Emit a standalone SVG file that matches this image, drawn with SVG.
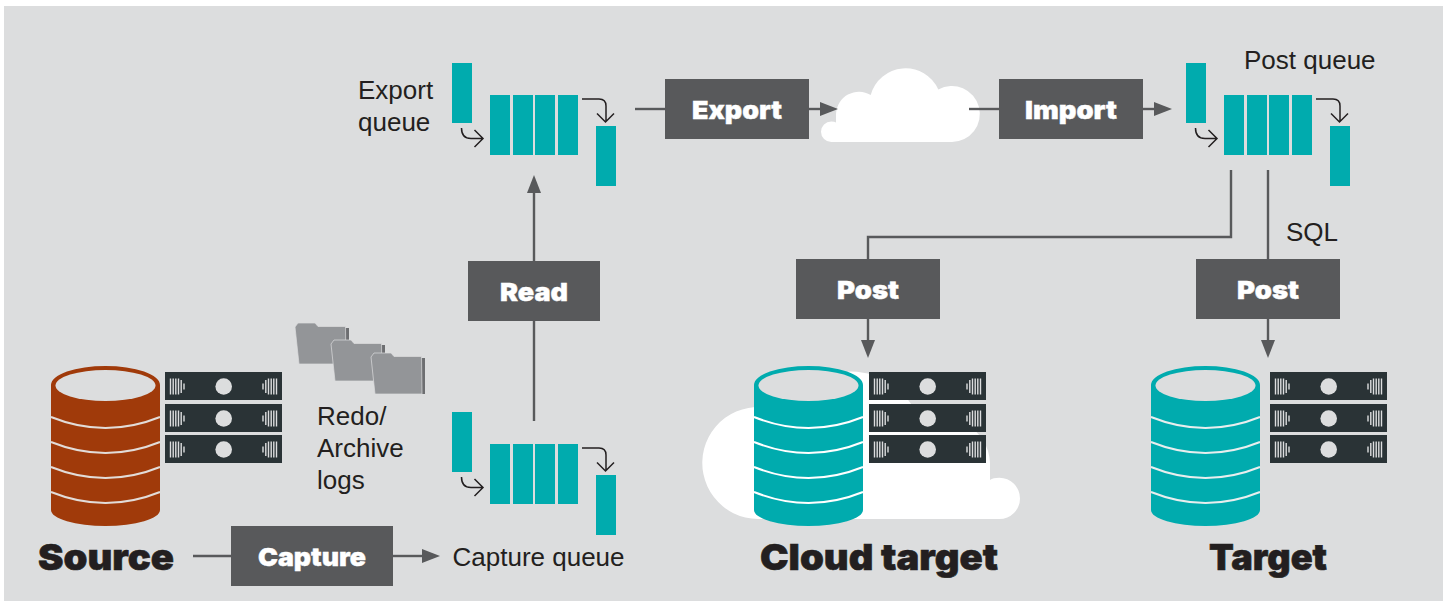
<svg xmlns="http://www.w3.org/2000/svg" xmlns:xlink="http://www.w3.org/1999/xlink" width="1447" height="605" viewBox="0 0 1447 605">
<style>
.t{font-family:"Liberation Sans",Arial,sans-serif;font-size:26px;fill:#231f20}
.h{font-family:Inter,"Liberation Sans",sans-serif;font-weight:900;font-size:36px;fill:#231f20;stroke:#231f20;stroke-width:.6}
.b{font-family:Inter,"Liberation Sans",sans-serif;font-weight:900;font-size:25px;fill:#fff;stroke:#fff;stroke-width:.4}
.box{fill:#58595b}
.c{fill:none;stroke:#58595b;stroke-width:2.4}
.q{fill:#00abae}
.s{fill:none;stroke:#231f20;stroke-width:1.5}
.v{stroke:#dcddde;stroke-width:1.4}
.folder{fill:#939598;stroke:#dcddde;stroke-width:.7}
</style>
<defs>
<marker id="ah" markerUnits="userSpaceOnUse" markerWidth="18" markerHeight="14" refX="0" refY="7" orient="auto"><path d="M0 0L18 7L0 14Z" fill="#58595b"/></marker>
<path id="cloud" d="M831.300 142A10.300 10.300 0 0 1 831.300 121.400Q834.500 121.400 836 122.500L836 114A23 23 0 0 1 870.700 95A36 36 0 0 1 938.300 89.500A28 28 0 1 1 952 142Z" fill="#fff"/>
<g id="rack">
<rect width="117" height="28" fill="#2a3336"/>
<circle cx="58.700" cy="14.500" r="8.300" fill="#dcddde"/>
<path class="v" d="M5.500 6.500V22.500M8.200 6.500V22.500M10.800 6.500V22.500M13.500 6.500V22.500M16.200 8V21M19 11.500V17.500M111.500 6.500V22.500M108.800 6.500V22.500M106.200 6.500V22.500M103.500 6.500V22.500M100.800 8V21M98 11.500V17.500"/>
</g>
<g id="racks"><use href="#rack"/><use href="#rack" y="32"/><use href="#rack" y="63"/></g>
<g id="db">
<path d="M0 19A54.500 19 0 0 1 109 19V144A54.500 16 0 0 1 0 144Z"/>
<ellipse cx="54.500" cy="19.500" rx="50" ry="15.500" fill="#dcddde"/>
<path fill="none" stroke="currentColor" stroke-width="2" d="M0 51Q54.500 73 109 51M0 76Q54.500 98 109 76M0 101Q54.500 123 109 101M0 126Q54.500 148 109 126"/>
</g>
<g id="queue">
<rect class="q" width="20" height="60"/>
<rect class="q" x="38" y="32" width="20" height="60"/>
<rect class="q" x="61" y="32" width="20" height="60"/>
<rect class="q" x="83" y="32" width="20" height="60"/>
<rect class="q" x="106" y="32" width="20" height="60"/>
<rect class="q" x="144" y="63" width="20" height="60"/>
<path class="s" d="M9.500 65Q9.500 75.500 19 75.500H31M22.500 67L31 75.500L22.500 84M130 36H147Q154 36 154 43V59M145 50.500L153.500 59L162 50.500"/>
</g>
<g id="folder">
<path d="M50 5H54V41H50Z" fill="#6d6e71"/>
<path class="folder" d="M0 4L3 0H20L23 3.500H50.500L51 41H4Z"/>
</g>
</defs>
<rect width="1447" height="605" fill="#fff"/>
<rect x="4" y="6" width="1439" height="595" fill="#dcddde"/>
<g id="cloud-top"><use href="#cloud"/></g>
<g id="connectors">
<path class="c" d="M193 556H231"/>
<path class="c" d="M393 556H422" marker-end="url(#ah)"/>
<path class="c" d="M534 421V321"/>
<path class="c" d="M534 261V193" marker-end="url(#ah)"/>
<path class="c" d="M635 109H665"/>
<path class="c" d="M809 109H820" marker-end="url(#ah)"/>
<path class="c" d="M969 109H999"/>
<path class="c" d="M1143 109H1154" marker-end="url(#ah)"/>
<path class="c" d="M1231 170V237H868V259"/>
<path class="c" d="M1268 170V259"/>
<path class="c" d="M868 319V340" marker-end="url(#ah)"/>
<path class="c" d="M1268 319V340" marker-end="url(#ah)"/>
</g>
<g id="source"><use href="#db" x="51" y="366" fill="#a03a0a" color="#e2dcd8"/><use href="#racks" x="165" y="372"/><text class="h" x="38" y="570" textLength="136" lengthAdjust="spacingAndGlyphs">Source</text></g>
<g id="logs"><use href="#folder" x="295" y="323"/><use href="#folder" x="331" y="340"/><use href="#folder" x="371" y="353"/>
<text class="t" x="317" y="425">Redo/</text><text class="t" x="317" y="457">Archive</text><text class="t" x="317" y="489">logs</text></g>
<g id="capture"><rect class="box" x="231" y="526" width="162" height="60"/><text class="b" x="258" y="566" textLength="108" lengthAdjust="spacingAndGlyphs">Capture</text></g>
<g id="capture-queue"><use href="#queue" x="452" y="412"/><text class="t" x="452.500" y="566">Capture queue</text></g>
<g id="read"><rect class="box" x="468" y="261" width="132" height="60"/><text class="b" x="500" y="301" textLength="68" lengthAdjust="spacingAndGlyphs">Read</text></g>
<g id="export-queue"><use href="#queue" x="452" y="63"/><text class="t" x="358" y="99">Export</text><text class="t" x="358" y="131">queue</text></g>
<g id="export"><rect class="box" x="665" y="79" width="144" height="60"/><text class="b" x="692" y="119" textLength="90" lengthAdjust="spacingAndGlyphs">Export</text></g>
<g id="import"><rect class="box" x="999" y="79" width="144" height="60"/><text class="b" x="1025" y="119" textLength="92" lengthAdjust="spacingAndGlyphs">Import</text></g>
<g id="post-queue"><use href="#queue" x="1186" y="63"/><text class="t" x="1244" y="69">Post queue</text></g>
<g id="post-cloud"><rect class="box" x="796" y="259" width="144" height="60"/><text class="b" x="837" y="299" textLength="62" lengthAdjust="spacingAndGlyphs">Post</text></g>
<g id="post-target"><rect class="box" x="1196" y="259" width="144" height="60"/><text class="b" x="1237" y="299" textLength="62" lengthAdjust="spacingAndGlyphs">Post</text><text class="t" x="1286" y="241">SQL</text></g>
<g id="cloud-target"><use href="#cloud" transform="matrix(-2 0 0 2 2662 235)"/><use href="#db" x="754" y="366" fill="#00abae" color="#fff"/><use href="#racks" x="869" y="372"/><text class="h" x="760" y="570" textLength="238" lengthAdjust="spacingAndGlyphs">Cloud target</text></g>
<g id="target"><use href="#db" x="1151" y="366" fill="#00abae" color="#e8eeee"/><use href="#racks" x="1270" y="372"/><text class="h" x="1209" y="570" textLength="118" lengthAdjust="spacingAndGlyphs">Target</text></g>
</svg>
